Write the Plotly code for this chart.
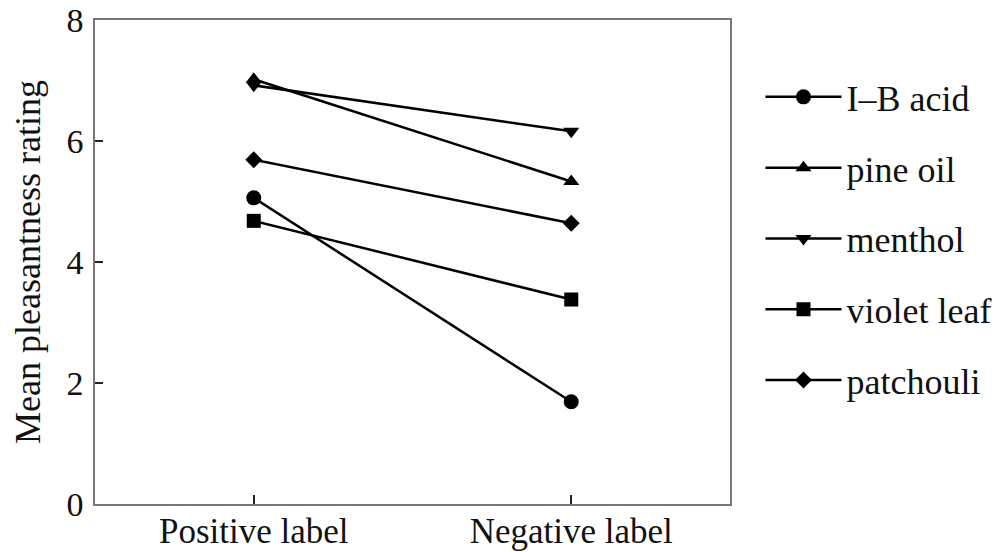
import plotly.graph_objects as go

conditions = ["Positive label", "Negative label"]
series_names = ["I\u2013B acid", "pine oil", "menthol", "violet leaf", "patchouli"]
ib_acid = [5.06, 1.69]
pine_oil = [7.02, 5.33]
menthol = [6.92, 6.16]
violet_leaf = [4.68, 3.38]
patchouli = [5.69, 4.64]
y_ticks = [0, 2, 4, 6, 8]

series_values = [ib_acid, pine_oil, menthol, violet_leaf, patchouli]
symbols = ["circle", "triangle-up", "triangle-down", "square", "diamond"]
sizes = [15, 14, 14, 14, 13]

x_pos = list(range(len(conditions)))

fig = go.Figure()
for i, (name, vals) in enumerate(zip(series_names, series_values)):
    fig.add_trace(go.Scatter(
        x=x_pos, y=vals, name=name, mode="lines+markers",
        line=dict(color="black", width=2.5),
        marker=dict(symbol=symbols[i], size=sizes[i], color="black"),
        legendgroup=f"g{i}",
    ))

font_family = "Liberation Serif, Times New Roman, serif"
fig.update_layout(
    width=992, height=544,
    margin=dict(l=87, r=270, t=12, b=48, autoexpand=False),
    paper_bgcolor="white", plot_bgcolor="white",
    font=dict(family=font_family, size=36, color="#111111"),
    showlegend=True,
    legend=dict(x=1.048, y=0.903, xanchor="left", yanchor="top",
                font=dict(size=36), itemwidth=76, tracegroupgap=21,
                bgcolor="rgba(0,0,0,0)"),
)
fig.update_xaxes(
    range=[-0.5, 1.5], tickvals=x_pos, ticktext=conditions,
    showgrid=False, zeroline=False, automargin=False,
    showline=True, linecolor="#777777", linewidth=1.5, mirror=True,
    ticks="inside", ticklen=9, tickcolor="#222222", tickwidth=1.5,
    ticklabeloverflow="allow", ticklabelstandoff=-5,
    tickfont=dict(size=35),
)
fig.update_yaxes(
    range=[0, 8], tickvals=y_ticks,
    showgrid=False, zeroline=False, automargin=False,
    showline=True, linecolor="#777777", linewidth=1.5, mirror=True,
    ticks="inside", ticklen=8, tickcolor="#222222", tickwidth=1.5,
    ticklabelstandoff=3, ticklabeloverflow="allow",
    tickfont=dict(size=34),
    title=dict(text="Mean pleasantness rating", standoff=15, font=dict(size=36)),
)

fig.write_html("out.html")
